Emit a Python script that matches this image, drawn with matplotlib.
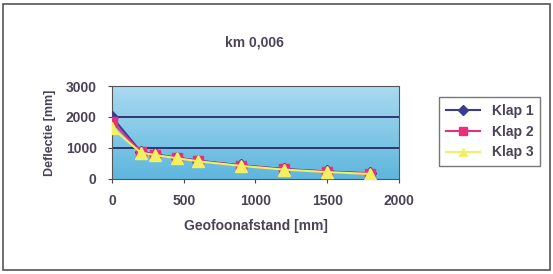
import matplotlib
matplotlib.use("Agg")
import matplotlib.pyplot as plt
import numpy as np

plt.rcParams['font.family'] = ['Liberation Sans', 'DejaVu Sans']
plt.rcParams['font.weight'] = 'bold'

# geofoon afstanden [mm] en deflecties per klap
afstand = [0, 200, 300, 450, 600, 900, 1200, 1500, 1800]
klap1 = [2000, 880, 790, 690, 590, 440, 320, 240, 180]
klap2 = [1850, 870, 780, 680, 580, 430, 310, 230, 170]
klap3 = [1650, 850, 770, 670, 570, 420, 300, 220, 160]

txt = '#4a4256'

fig = plt.figure(figsize=(5.53, 2.74), dpi=100)
# outer frame
fig.patches.append(plt.Rectangle((0.005, 0.015), 0.99, 0.97, transform=fig.transFigure,
                                 fill=False, edgecolor='#555555', linewidth=1.2))

ax = fig.add_axes([0.2025, 0.347, 0.519, 0.339])

# blue gradient background
grad = np.linspace(0, 1, 100).reshape(-1, 1)
ax.imshow(grad, extent=[0, 2000, 0, 3000], aspect='auto', origin='lower',
          cmap=matplotlib.colors.LinearSegmentedColormap.from_list('bg', ['#5fb6de', '#a9daf0']),
          zorder=0)

for y in [1000, 2000, 3000]:
    ax.axhline(y, color='#2a2a6a', linewidth=1.3, zorder=1)

ax.plot(afstand, klap1, color='#3c3c8c', marker='D', markersize=6, linewidth=1.5, label='Klap 1', zorder=3)
ax.plot(afstand, klap2, color='#e8307a', marker='s', markersize=7, linewidth=1.5, label='Klap 2', zorder=4)
ax.plot(afstand, klap3, color='#f0f060', marker='^', markersize=8, linewidth=1.5, label='Klap 3', zorder=5)

ax.set_xlim(0, 2000)
ax.set_ylim(0, 3000)
ax.set_xticks([0, 500, 1000, 1500, 2000])
ax.set_yticks([0, 1000, 2000, 3000])
ax.tick_params(colors=txt, labelsize=10, length=3, direction='out', pad=8)
for s in ax.spines.values():
    s.set_color('#555555')

ax.set_xlabel('Geofoonafstand [mm]', fontsize=10, color=txt, fontweight='bold', labelpad=8)
ax.set_ylabel('Deflectie [mm]', fontsize=9, color=txt, fontweight='bold', labelpad=7)
fig.text(0.46, 0.845, 'km 0,006', ha='center', va='center', fontsize=10, color=txt, fontweight='bold')

leg = fig.legend(loc='center', bbox_to_anchor=(0.885, 0.52), fontsize=10, frameon=True,
                 fancybox=False, edgecolor='#555555', labelcolor=txt, handlelength=2.5,
                 borderpad=0.5, labelspacing=0.5, markerscale=0.8)
leg.get_frame().set_linewidth(1.0)

fig.savefig('out.png', dpi=100)
